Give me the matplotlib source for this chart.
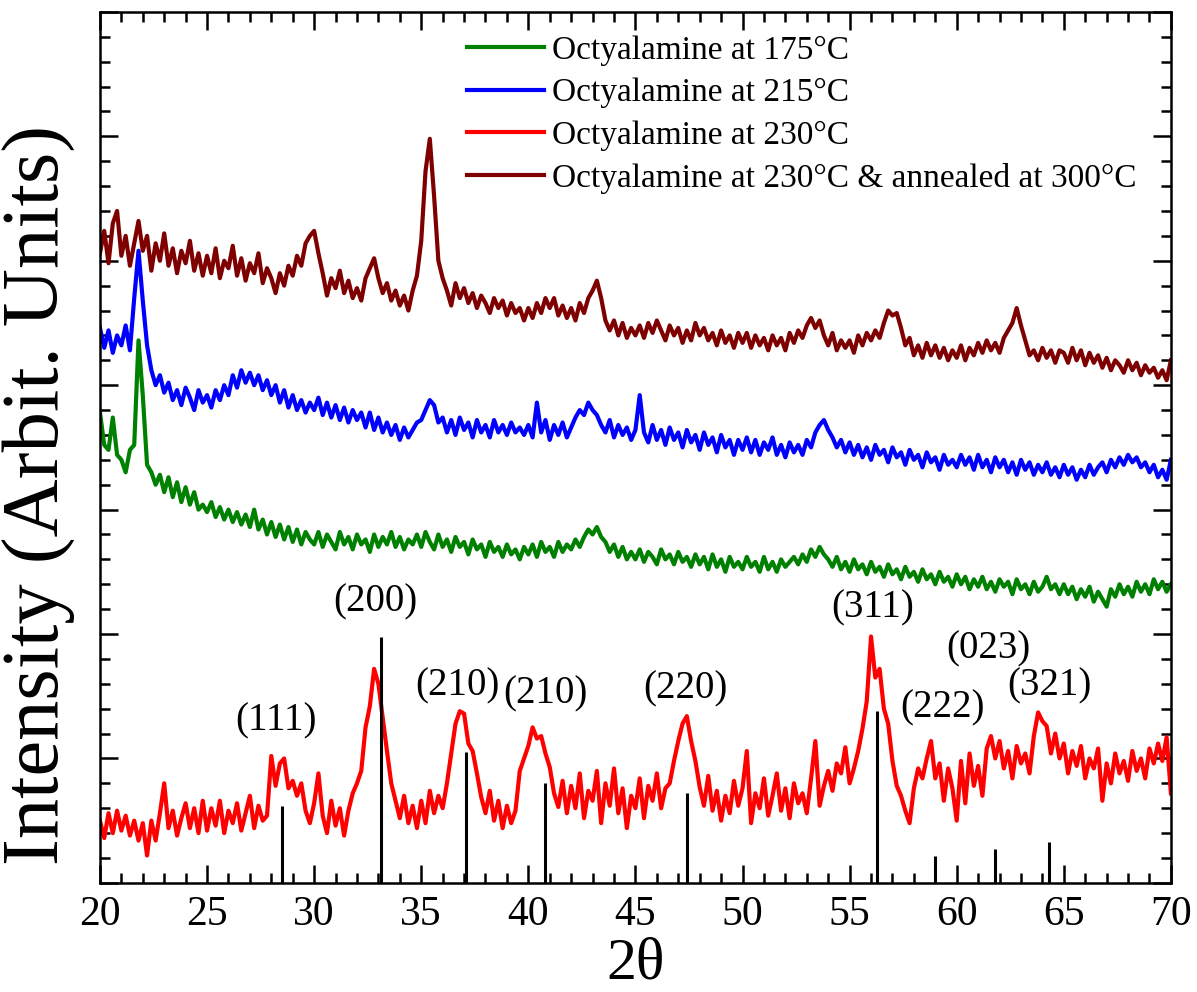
import numpy as np
import matplotlib
matplotlib.use("Agg")
import matplotlib.pyplot as plt
from matplotlib.ticker import MultipleLocator

plt.rcParams['font.family'] = ['Liberation Serif', 'DejaVu Serif']

# 2theta grid, 20 -> 70 in 0.2 deg steps
theta = np.round(20.0 + 0.2 * np.arange(251), 1)

# intensities (arbitrary units), one row = 5 degrees
octy_175 = [
    378, 352, 348, 374, 344, 340, 330, 348, 352, 436, 392, 336, 330, 320, 328, 314, 326, 310, 322, 306, 318, 304, 314, 300, 304,
    298, 306, 294, 302, 292, 300, 290, 298, 288, 296, 286, 300, 284, 292, 280, 290, 278, 288, 276, 286, 274, 284, 272, 282, 276,
    272, 282, 270, 280, 274, 268, 282, 272, 278, 268, 280, 272, 276, 266, 280, 270, 278, 272, 282, 270, 278, 268, 276, 272, 280,
    270, 282, 274, 268, 280, 270, 276, 266, 278, 270, 274, 264, 276, 268, 272, 262, 274, 266, 270, 262, 272, 264, 268, 260, 270,
    264, 272, 262, 274, 266, 270, 262, 274, 266, 272, 268, 276, 270, 278, 284, 280, 286, 278, 274, 266, 272, 262, 270, 260, 266,
    260, 268, 258, 266, 262, 256, 268, 260, 264, 256, 266, 258, 262, 254, 264, 256, 262, 252, 264, 254, 260, 250, 262, 254, 258,
    252, 262, 254, 258, 250, 262, 252, 258, 250, 260, 254, 258, 262, 256, 264, 258, 268, 262, 270, 264, 260, 254, 262, 252, 258,
    250, 260, 252, 256, 248, 258, 250, 254, 246, 256, 248, 252, 244, 254, 246, 250, 242, 252, 244, 248, 240, 250, 242, 246, 238,
    248, 240, 246, 236, 244, 238, 246, 236, 242, 234, 244, 238, 242, 232, 244, 236, 240, 232, 242, 234, 238, 246, 236, 240, 232,
    240, 232, 238, 228, 236, 230, 238, 226, 234, 228, 222, 236, 230, 240, 232, 238, 230, 242, 234, 240, 232, 244, 236, 242, 234,
    240]

octy_215 = [
    446, 430, 444, 426, 440, 432, 448, 428, 470, 508, 468, 432, 412, 400, 408, 394, 402, 388, 396, 384, 398, 390, 380, 396, 386,
    392, 382, 396, 388, 400, 392, 408, 398, 412, 402, 410, 400, 408, 396, 404, 392, 400, 386, 396, 382, 392, 380, 388, 378, 386,
    380, 390, 376, 386, 374, 384, 372, 382, 370, 380, 372, 378, 366, 378, 364, 374, 362, 370, 360, 368, 356, 366, 358, 364, 370,
    372, 380, 388, 384, 370, 374, 362, 372, 360, 374, 364, 370, 358, 372, 362, 368, 358, 372, 362, 368, 360, 370, 362, 366, 360,
    368, 358, 386, 362, 372, 356, 368, 360, 370, 358, 366, 374, 380, 376, 386, 380, 376, 368, 362, 372, 358, 368, 360, 366, 356,
    364, 392, 362, 354, 368, 356, 364, 352, 366, 356, 362, 350, 364, 354, 360, 348, 362, 352, 358, 346, 360, 350, 356, 344, 356,
    348, 358, 346, 356, 344, 354, 348, 358, 344, 352, 342, 354, 346, 352, 344, 356, 350, 362, 368, 372, 364, 358, 350, 356, 346,
    354, 344, 352, 342, 350, 340, 352, 344, 348, 338, 350, 342, 346, 336, 348, 340, 344, 334, 346, 338, 342, 332, 344, 336, 340,
    334, 344, 336, 342, 332, 344, 334, 340, 330, 342, 334, 340, 330, 338, 328, 340, 332, 338, 328, 336, 330, 338, 328, 334, 326,
    336, 328, 334, 324, 332, 326, 336, 328, 334, 338, 330, 340, 334, 342, 336, 344, 338, 342, 334, 338, 330, 336, 326, 332, 324,
    340]

octy_230 = [
    50, 36, 56, 40, 58, 42, 54, 38, 50, 34, 48, 22, 50, 34, 56, 80, 44, 58, 38, 52, 64, 44, 60, 40, 66,
    42, 60, 46, 66, 40, 58, 48, 64, 42, 56, 70, 44, 62, 50, 54, 102, 78, 96, 100, 76, 82, 70, 80, 58, 48,
    64, 88, 54, 40, 66, 46, 60, 38, 58, 72, 80, 90, 125, 142, 172, 160, 133, 106, 80, 66, 52, 70, 48, 62, 44,
    66, 48, 74, 56, 70, 60, 80, 104, 128, 138, 136, 112, 106, 88, 69, 56, 74, 50, 66, 44, 62, 48, 58, 90, 100,
    110, 125, 116, 118, 104, 93, 72, 61, 82, 56, 78, 60, 88, 52, 74, 66, 90, 48, 80, 62, 92, 56, 76, 44, 70,
    60, 84, 52, 78, 66, 88, 60, 76, 80, 98, 114, 128, 134, 114, 98, 77, 62, 86, 58, 74, 50, 70, 56, 82, 62,
    76, 106, 48, 72, 60, 84, 54, 70, 88, 58, 76, 52, 80, 64, 72, 56, 84, 114, 62, 78, 90, 74, 96, 88, 109,
    80, 92, 106, 124, 146, 198, 165, 172, 140, 128, 98, 78, 70, 58, 48, 76, 92, 84, 100, 114, 84, 96, 66, 92, 76,
    50, 98, 64, 104, 78, 94, 70, 108, 118, 100, 114, 92, 106, 84, 110, 96, 104, 88, 118, 137, 130, 126, 104, 120, 100,
    112, 88, 106, 94, 110, 84, 100, 92, 108, 66, 96, 80, 104, 88, 98, 82, 106, 90, 100, 84, 108, 96, 112, 98, 117,
    72]

octy_230_ann = [
    506, 524, 498, 530, 540, 504, 520, 496, 514, 532, 508, 520, 492, 514, 500, 522, 496, 510, 490, 508, 498, 516, 492, 506, 488,
    504, 490, 510, 486, 500, 494, 512, 488, 502, 484, 498, 490, 506, 482, 494, 486, 474, 490, 480, 496, 488, 504, 496, 514, 520,
    524, 506, 490, 472, 486, 478, 492, 474, 484, 470, 478, 468, 486, 494, 502, 486, 474, 482, 468, 476, 464, 472, 460, 476, 488,
    516, 572, 598, 552, 500, 486, 476, 464, 482, 470, 478, 466, 474, 462, 472, 466, 458, 470, 462, 468, 456, 466, 458, 462, 452,
    462, 454, 466, 458, 470, 462, 470, 456, 464, 454, 462, 452, 466, 458, 470, 476, 484, 470, 452, 444, 452, 440, 450, 438, 446,
    440, 448, 438, 450, 442, 452, 444, 436, 448, 440, 446, 434, 444, 436, 450, 440, 446, 436, 442, 432, 444, 434, 440, 430, 442,
    434, 442, 430, 440, 432, 438, 428, 440, 432, 438, 428, 442, 434, 444, 438, 448, 454, 446, 452, 440, 432, 442, 428, 436, 430,
    436, 426, 440, 432, 442, 436, 444, 438, 450, 460, 456, 458, 446, 432, 438, 424, 432, 422, 434, 424, 432, 422, 430, 420, 428,
    422, 432, 420, 430, 424, 434, 426, 436, 428, 434, 426, 438, 444, 450, 462, 448, 436, 424, 428, 420, 430, 422, 428, 418, 428,
    426, 418, 430, 420, 428, 416, 426, 418, 424, 414, 422, 412, 420, 416, 410, 420, 412, 418, 408, 416, 410, 414, 406, 412, 404,
    420]

# reference pattern sticks
ref_pos = [28.5, 33.1, 37.1, 40.8, 47.4, 56.3, 59.0, 61.8, 64.3]
ref_int = [62, 198, 105, 80, 72, 138, 22, 27, 33]

# peak labels
hkl_text = ['(111)', '(200)', '(210)', '(210)', '(220)', '(311)', '(222)', '(023)', '(321)']
hkl_x = [28.2, 32.85, 36.7, 40.8, 47.35, 56.1, 59.35, 61.5, 64.35]
hkl_y = [130, 226, 158, 152, 156, 221, 141, 188, 158]

series = [
    (octy_175, '#008000', 'Octyalamine at 175°C'),
    (octy_215, '#0000ff', 'Octyalamine at 215°C'),
    (octy_230, '#ff0000', 'Octyalamine at 230°C'),
    (octy_230_ann, '#7f0000', 'Octyalamine at 230°C & annealed at 300°C'),
]
for s in series:
    assert len(s[0]) == len(theta), (s[2], len(s[0]))

fig = plt.figure(figsize=(11.97, 9.92), dpi=100)
ax = fig.add_axes([0.0835, 0.110, 0.8947, 0.878])

for vals, col, lab in series:
    ax.plot(theta, vals, color=col, lw=3.0, label=lab)

ax.vlines(ref_pos, 0, ref_int, color='black', lw=2.2, zorder=5)

for t, x, y in zip(hkl_text, hkl_x, hkl_y):
    ax.text(x, y, t, fontsize=28, ha='center', va='center')

ax.set_xlim(20, 70)
ax.set_ylim(0, 700)
ax.xaxis.set_major_locator(MultipleLocator(5))
ax.xaxis.set_minor_locator(MultipleLocator(1))
ax.yaxis.set_major_locator(MultipleLocator(100))
ax.yaxis.set_minor_locator(MultipleLocator(20))
ax.tick_params(which='both', direction='in', top=True, right=True, width=1.8)
ax.tick_params(which='major', length=13)
ax.tick_params(which='minor', length=7)
ax.tick_params(axis='x', labelsize=30, pad=9)
ax.tick_params(axis='y', labelleft=False)
for sp in ax.spines.values():
    sp.set_linewidth(1.8)

ax.set_xlabel('2θ', fontsize=43)
ax.xaxis.set_label_coords(0.5, -0.063)
ax.set_ylabel('Intensity (Arbit. Units)', fontsize=58)
ax.yaxis.set_label_coords(-0.022, 0.445)

leg = ax.legend(loc='upper left', bbox_to_anchor=(0.321, 1.0), frameon=False,
                fontsize=24, handlelength=2.3, handletextpad=0.25,
                labelspacing=0.36, borderaxespad=0.3)
for ln in leg.get_lines():
    ln.set_linewidth(3.0)

fig.savefig('out.png', dpi=100)
